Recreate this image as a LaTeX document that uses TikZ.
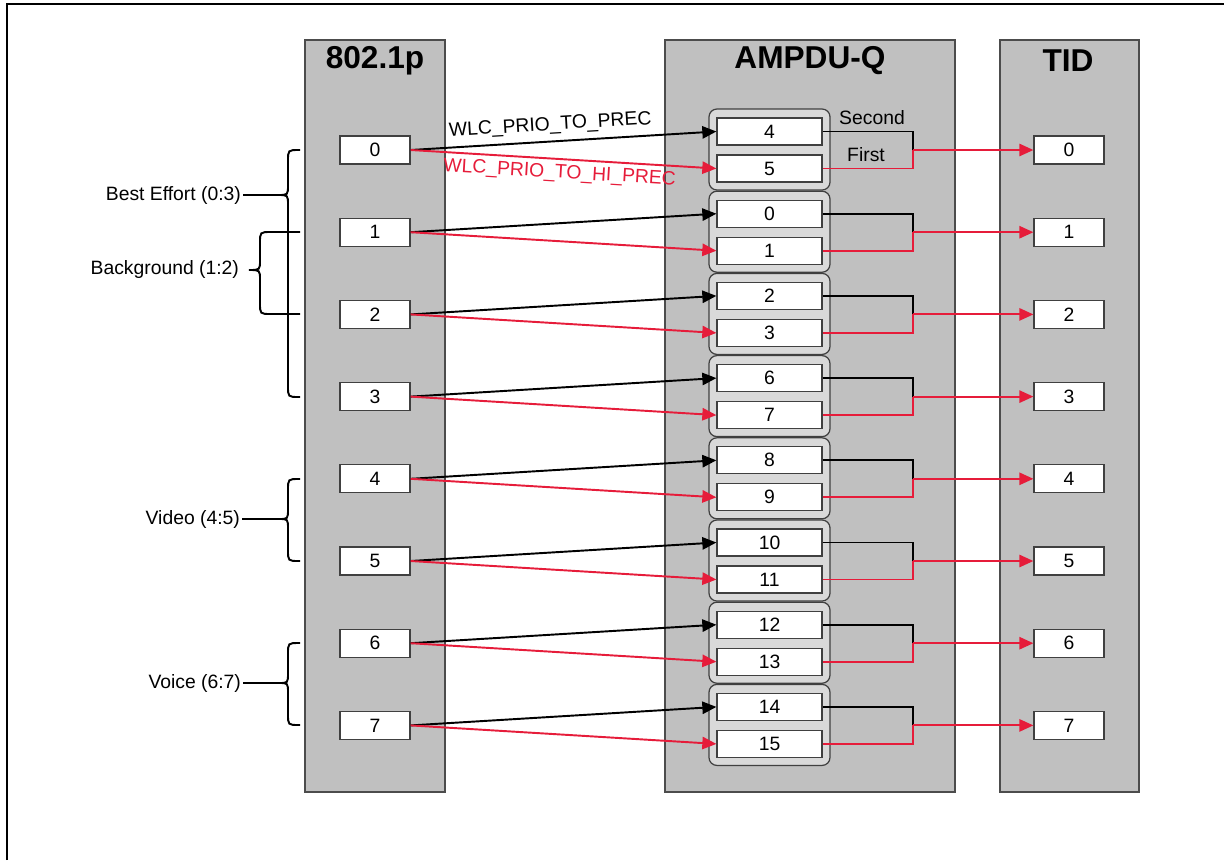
\documentclass[tikz,border=0pt]{standalone}
\usepackage{fontspec}
\setmainfont{Liberation Sans}
\usetikzlibrary{arrows.meta}
\definecolor{colgray}{HTML}{C0C0C0}
\definecolor{grpgray}{HTML}{D9D9D9}
\definecolor{wlcred}{RGB}{230,28,58}

\tikzset{
  column/.style={draw=black!70, fill=colgray, line width=0.8pt},
  slot/.style={draw=black!75, fill=white, line width=0.7pt, minimum width=1.4cm,
    minimum height=0.56cm, inner sep=0pt, font=\fontsize{11}{13}\selectfont},
  qslot/.style={slot, minimum width=2.1cm, minimum height=0.54cm},
  qgroup/.style={draw=black!75, fill=grpgray, line width=0.7pt, rounded corners=4.5pt},
  title/.style={font=\fontsize{18}{21}\selectfont\bfseries},
  lbl/.style={font=\fontsize{11}{13}\selectfont, inner sep=1pt},
  map/.style={line width=1.1pt, -{Triangle[length=8pt,width=7pt]}},
  merge/.style={line width=1.1pt},
  brace line/.style={line width=1.1pt},
}

% brace: tip x, line x, cusp x, top y, cusp y, bottom y
\newcommand{\qosbrace}[6]{%
  \draw[brace line] (#1,#4) -- ({#2+11},#4) .. controls (#2,#4) .. (#2,{#4+11})
    -- (#2,{#5-10}) .. controls (#2,#5) .. (#3,#5) .. controls (#2,#5) .. (#2,{#5+10})
    -- (#2,{#6-11}) .. controls (#2,#6) .. ({#2+11},#6) -- (#1,#6);}

\begin{document}
\begin{tikzpicture}[x=0.02cm, y=-0.02cm]
  \useasboundingbox (0,0) rectangle (1224,860);
  \draw[line width=1.5pt] (7,860) -- (7,4) -- (1224,4);

  % columns
  \draw[column] (305,40) rectangle (445,792);
  \draw[column] (665,40) rectangle (955,792);
  \draw[column] (1000,40) rectangle (1139,792);
  \node[title] (hprio) at (375,61) {802.1p};
  \node[title] (hampdu) at (810,61) {AMPDU-Q};
  \node[title] (htid) at (1068,61) {TID};

  % priority -> precedence pair -> tid
  \foreach \i/\a/\b in {0/4/5, 1/0/1, 2/2/3, 3/6/7, 4/8/9, 5/10/11, 6/12/13, 7/14/15} {
    \pgfmathsetmacro{\y}{150+82.2*\i}
    \node[slot] (p\i) at (375,\y) {\i};
    \node[slot] (t\i) at (1069,\y) {\i};
    \draw[qgroup] (709,\y-41) rectangle (830,\y+40);
    \node[qslot] (q\a) at (769.5,\y-18.5) {\a};
    \node[qslot] (q\b) at (769.5,\y+18.5) {\b};
    \coordinate (j\i) at (913,\y);
    \draw[map] (p\i.east) -- (q\a.west);
    \draw[map, wlcred] (p\i.east) -- (q\b.west);
    \draw[merge] (q\a.east) -| (j\i);
    \draw[merge, wlcred] (q\b.east) -| (j\i);
    \draw[map, wlcred] (j\i) -- (t\i.west);
  }

  \path (p0.east) -- (q4.west)
    node[lbl, pos=0.46, above=3pt, sloped] {WLC\_PRIO\_TO\_PREC};
  \path (p0.east) -- (q5.west)
    node[lbl, wlcred, pos=0.49, below=2pt, sloped] {WLC\_PRIO\_TO\_HI\_PREC};
  \node[lbl] (second) at (872,118) {Second};
  \node[lbl] (first) at (866,155) {First};

  % access categories
  \qosbrace{300}{288}{278}{150}{195}{397}
  \qosbrace{300}{260}{249}{232}{270}{314}
  \qosbrace{300}{288}{279}{479}{519}{561}
  \qosbrace{300}{288}{279}{643}{683}{725}
  \node[lbl, anchor=east] (be) at (243,195) {Best Effort (0:3)};
  \node[lbl, anchor=east] (bk) at (241,269) {Background (1:2)};
  \node[lbl, anchor=east] (vi) at (242,519) {Video (4:5)};
  \node[lbl, anchor=east] (vo) at (243,683) {Voice (6:7)};
  \draw[brace line] (be.east) -- (278,195);
  \draw[brace line] (vi.east) -- (279,519);
  \draw[brace line] (vo.east) -- (279,683);
\end{tikzpicture}
\end{document}
